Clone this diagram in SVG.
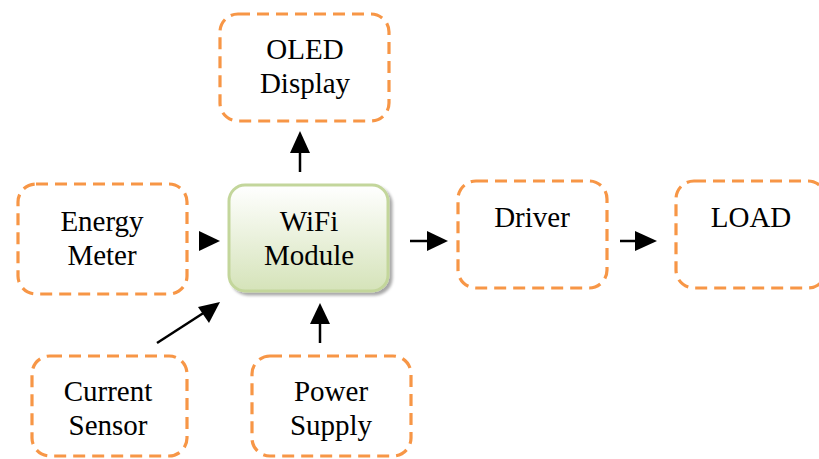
<svg xmlns="http://www.w3.org/2000/svg" width="819" height="459" viewBox="0 0 819 459">
<style>
.box{fill:none;stroke:#f79646;stroke-width:3.2;stroke-dasharray:12 7}
.t{font-family:"Liberation Serif","Times New Roman",serif;font-size:29px;fill:#000;text-anchor:middle}
.c{stroke:#000;stroke-width:2.5;fill:none}
.h{fill:#000}
</style>
<defs>
<linearGradient id="g" x1="0" y1="0" x2="0" y2="1">
<stop offset="0" stop-color="#ffffff"/>
<stop offset="1" stop-color="#d5e3b9"/>
</linearGradient>
<filter id="sh" x="-10%" y="-10%" width="130%" height="130%">
<feGaussianBlur in="SourceAlpha" stdDeviation="1.5"/>
<feOffset dx="3" dy="3"/>
<feComponentTransfer><feFuncA type="linear" slope="0.35"/></feComponentTransfer>
<feMerge><feMergeNode/><feMergeNode in="SourceGraphic"/></feMerge>
</filter>
</defs>
<g id="oled"><rect class="box" x="220" y="14" width="169" height="107" rx="18"/><text class="t" x="305" y="59">OLED</text><text class="t" x="305" y="93">Display</text></g>
<g id="energy"><rect class="box" x="18" y="184" width="169" height="110" rx="18"/><text class="t" x="102" y="231">Energy</text><text class="t" x="102" y="265">Meter</text></g>
<g id="wifi"><rect x="229" y="185" width="159" height="106" rx="16" fill="url(#g)" stroke="#c3d69b" stroke-width="3" filter="url(#sh)"/><text class="t" x="309" y="231">WiFi</text><text class="t" x="309" y="265">Module</text></g>
<g id="driver"><rect class="box" x="458" y="181" width="149" height="107" rx="18"/><text class="t" x="532" y="227">Driver</text></g>
<g id="load"><rect class="box" x="676" y="181" width="150" height="107" rx="18"/><text class="t" x="751" y="227">LOAD</text></g>
<g id="current"><rect class="box" x="32" y="356" width="155" height="100" rx="18"/><text class="t" x="108" y="401">Current</text><text class="t" x="108" y="435">Sensor</text></g>
<g id="power"><rect class="box" x="252" y="356" width="159" height="100" rx="18"/><text class="t" x="331" y="401">Power</text><text class="t" x="331" y="435">Supply</text></g>
<g id="connectors">
<line class="c" x1="300" y1="172" x2="300" y2="150"/><polygon class="h" points="300,131 290,153 310,153"/>
<polygon class="h" points="220,241 199,231 199,251"/>
<line class="c" x1="410" y1="241" x2="430" y2="241"/><polygon class="h" points="448,241 427,231 427,251"/>
<line class="c" x1="620" y1="241" x2="638" y2="241"/><polygon class="h" points="657,241 635,231 635,251"/>
<line class="c" x1="157" y1="343" x2="205" y2="312"/><polygon class="h" points="220,302 198,307 209,323"/>
<line class="c" x1="320" y1="343" x2="320" y2="320"/><polygon class="h" points="320,303 310,324 330,324"/>
</g>
</svg>
